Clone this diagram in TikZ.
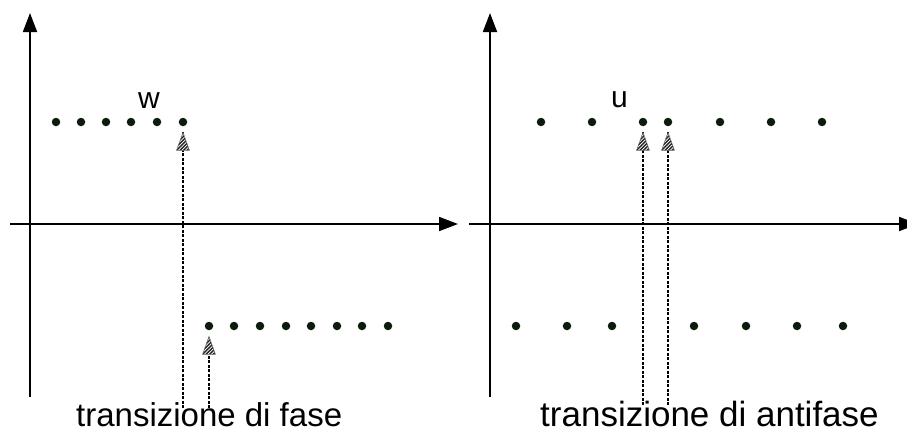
\documentclass[tikz,border=0pt]{standalone}
\usepackage{fontspec}
\setmainfont{Liberation Sans}
\usetikzlibrary{arrows.meta,decorations.markings}

\definecolor{dotcol}{RGB}{12,28,12}

\tikzset{
  axis/.style={line width=1.8pt,-{Triangle[length=19pt,width=14pt]}},
  sample/.style={circle,fill=dotcol,draw=none,inner sep=0pt,minimum size=8.5pt},
  % dashed transition connector with a hatched triangular head
  transline/.style={line width=1.2pt,dash pattern=on 3pt off 1.5pt,shorten >=6pt,
    postaction={decorate},
    decoration={markings,mark=at position 1 with {
      \begin{scope}
        \clip (-6,0) -- (-24,6.5) -- (-24,-6.5) -- cycle;
        \fill[white] (-26,-8) rectangle (-4,8);
        \foreach \k in {-8,-4.5,...,24}
          \draw[solid,line width=1.4pt,black!85] (-30+\k,-10) -- (-10+\k,10);
      \end{scope}
      \draw[solid,line width=0.5pt,black!60] (-6,0) -- (-24,6.5) -- (-24,-6.5) -- cycle;}}},
  captionl/.style={anchor=base west,inner sep=0pt,font=\fontsize{33}{36}\selectfont},
  captionr/.style={anchor=base west,inner sep=0pt,font=\fontsize{35}{38}\selectfont},
  letter/.style={anchor=base west,inner sep=0pt,font=\fontsize{30}{32}\selectfont}
}

\begin{document}
\begin{tikzpicture}[x=1pt,y=-1pt]
\useasboundingbox (0,0) rectangle (907,434);

% ---------- left panel: phase transition ----------
\coordinate (lvb) at (30,397);
\coordinate (lvt) at (30,13);
\coordinate (lhl) at (10,224);
\coordinate (lhr) at (458,224);
\draw[axis] (lvb) -- (lvt);
\draw[axis] (lhl) -- (lhr);

\foreach \x [count=\i] in {56,81,106,131,157,183}
  \node[sample] (lt\i) at (\x,122) {};
\foreach \x [count=\i] in {209,234,260,286,311,337,362,388}
  \node[sample] (lb\i) at (\x,326) {};

\node[letter] (w) at (138,108) {w};

\coordinate (la) at (183,408);
\coordinate (lc) at (209,408);
\draw[transline] (la) -- (lt6);
\draw[transline] (lc) -- (lb1);

\node[captionl] (capl) at (76,426) {transizione di fase};

% ---------- right panel: antiphase transition ----------
\coordinate (rvb) at (490,397);
\coordinate (rvt) at (490,13);
\coordinate (rhl) at (469,224);
\coordinate (rhr) at (918,224);
\draw[axis] (rvb) -- (rvt);
\draw[axis] (rhl) -- (rhr);

\foreach \x [count=\i] in {541,592,643,668,720,771,822}
  \node[sample] (rt\i) at (\x,122) {};
\foreach \x [count=\i] in {516,567,612,694,746,797,843}
  \node[sample] (rb\i) at (\x,326) {};

\node[letter] (u) at (611,107) {u};

\coordinate (ra) at (643,405);
\coordinate (rc) at (668,405);
\draw[transline] (ra) -- (rt3);
\draw[transline] (rc) -- (rt4);

\node[captionr] (capr) at (540,426) {transizione di antifase};
\end{tikzpicture}
\end{document}
